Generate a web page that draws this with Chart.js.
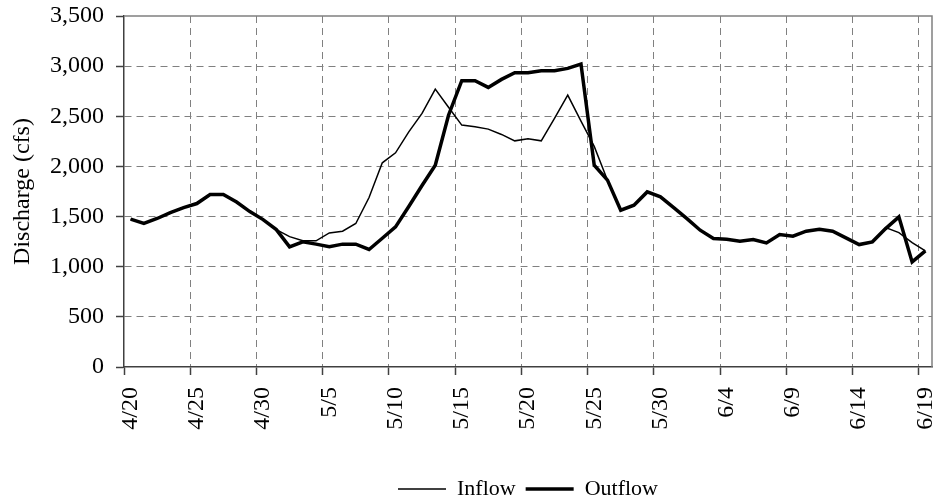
<!DOCTYPE html>
<html>
<head>
<meta charset="utf-8">
<script src="https://cdn.jsdelivr.net/npm/chart.js@4.4.1/dist/chart.umd.min.js"></script>
<style>
  html, body { margin: 0; padding: 0; background: #fff; }
</style>
</head>
<body>
<canvas id="flowChart" width="936" height="502"></canvas>
<script>
// daily dates, 4/20 - 6/19
const dates = [
  "4/20", "4/21", "4/22", "4/23", "4/24", "4/25", "4/26", "4/27", "4/28", "4/29", "4/30",
  "5/1", "5/2", "5/3", "5/4", "5/5", "5/6", "5/7", "5/8", "5/9", "5/10",
  "5/11", "5/12", "5/13", "5/14", "5/15", "5/16", "5/17", "5/18", "5/19", "5/20",
  "5/21", "5/22", "5/23", "5/24", "5/25", "5/26", "5/27", "5/28", "5/29", "5/30", "5/31",
  "6/1", "6/2", "6/3", "6/4", "6/5", "6/6", "6/7", "6/8", "6/9", "6/10",
  "6/11", "6/12", "6/13", "6/14", "6/15", "6/16", "6/17", "6/18", "6/19"
];

const inflow = [
  1474, 1431, 1481, 1540, 1590, 1630, 1720, 1720, 1645, 1550, 1470,
  1370, 1300, 1260, 1258, 1337, 1354, 1431, 1690, 2036, 2136,
  2345, 2529, 2771, 2590, 2412, 2395, 2372, 2319, 2255, 2275,
  2255, 2479, 2711, 2452, 2200, 1863, 1564, 1614, 1746, 1697, 1590,
  1480, 1364, 1281, 1274, 1254, 1271, 1237, 1321, 1304, 1354,
  1374, 1354, 1287, 1221, 1248, 1390, 1340, 1240, 1158
];

const outflow = [
  1474, 1431, 1481, 1540, 1590, 1630, 1720, 1720, 1645, 1550, 1470,
  1370, 1198, 1248, 1225, 1200, 1225, 1225, 1172, 1284, 1397,
  1600, 1810, 2012, 2511, 2855, 2855, 2788, 2868, 2934, 2934,
  2954, 2954, 2978, 3021, 2013, 1863, 1564, 1614, 1746, 1697, 1590,
  1480, 1364, 1281, 1274, 1254, 1271, 1237, 1321, 1304, 1354,
  1374, 1354, 1287, 1221, 1248, 1380, 1497, 1048, 1158
];

const yTicks = [0, 500, 1000, 1500, 2000, 2500, 3000, 3500];

Chart.defaults.font.family = "'Liberation Serif', 'Times New Roman', serif";
Chart.defaults.color = "#000";

const grey = "#808080";
const axisColor = "#404040";

// top and right edge of the plot box
const frame = {
  id: "frame",
  afterDatasetsDraw(chart) {
    const a = chart.chartArea;
    const c = chart.ctx;
    c.save();
    c.strokeStyle = grey;
    c.lineWidth = 1.5;
    c.beginPath();
    c.moveTo(a.left, a.top);
    c.lineTo(a.right, a.top);
    c.lineTo(a.right, a.bottom);
    c.stroke();
    c.restore();
  },
};

let canvasElement = document.getElementById("flowChart");
let config = {
  type: "line",
  data: {
    labels: dates,
    datasets: [
      {
        label: "Inflow",
        data: inflow,
        borderColor: "#000",
        borderWidth: 1.5,
        pointRadius: 0,
        tension: 0,
      },
      {
        label: "Outflow",
        data: outflow,
        borderColor: "#000",
        borderWidth: 3.5,
        pointRadius: 0,
        tension: 0,
      },
    ],
  },
  options: {
    responsive: false,
    animation: false,
    layout: { padding: { left: 0, right: 4, top: 16, bottom: -8 } },
    plugins: {
      tooltip: { enabled: false },
      legend: {
        position: "bottom",
        fullSize: false,
        labels: {
          usePointStyle: true,
          pointStyleWidth: 48,
          padding: 10,
          color: "#000",
          font: { size: 22 },
          generateLabels: (chart) =>
            chart.data.datasets.map((ds, i) => ({
              text: ds.label,
              datasetIndex: i,
              strokeStyle: "#000",
              fillStyle: "#000",
              lineWidth: ds.borderWidth,
              pointStyle: "line",
              hidden: false,
            })),
        },
      },
    },
    scales: {
      x: {
        offset: true,
        grid: {
          offset: true,
          color: (c) => (c.index % 5 === 0 && c.index > 0 ? grey : "transparent"),
          lineWidth: 1,
          tickLength: 8,
          tickWidth: 1.5,
          tickColor: (c) => (c.index % 5 === 0 ? axisColor : "transparent"),
        },
        border: { color: axisColor, width: 1.5, dash: [7, 5] },
        ticks: {
          autoSkip: false,
          minRotation: 90,
          maxRotation: 90,
          padding: 12,
          font: { size: 24 },
          callback: (v, i) => (i % 5 === 0 ? dates[i] : ""),
        },
        afterFit: (s) => {
          s.height = 101;
          s.paddingLeft = 0;
          s.paddingRight = 0;
        },
      },
      y: {
        min: yTicks[0],
        max: yTicks[yTicks.length - 1],
        afterBuildTicks: (s) => {
          s.ticks = yTicks.map((v) => ({ value: v }));
        },
        ticks: {
          padding: 12,
          font: { size: 24 },
          callback: (v) => v.toLocaleString("en-US"),
        },
        grid: {
          color: (c) => (c.tick && c.tick.value > 0 && c.tick.value < 3500 ? grey : "transparent"),
          lineWidth: 1,
          tickLength: 8,
          tickWidth: 1.5,
          tickColor: axisColor,
        },
        border: { color: axisColor, width: 1.5, dash: [7, 5] },
        title: {
          display: true,
          text: "Discharge (cfs)",
          color: "#000",
          font: { size: 24 },
          padding: { top: 8, bottom: 0 },
        },
        afterFit: (s) => {
          s.width = 124;
          s.paddingTop = 0;
          s.paddingBottom = 0;
        },
      },
    },
  },
  plugins: [frame],
};
let flowChart = new Chart(canvasElement, config);
</script>
</body>
</html>
